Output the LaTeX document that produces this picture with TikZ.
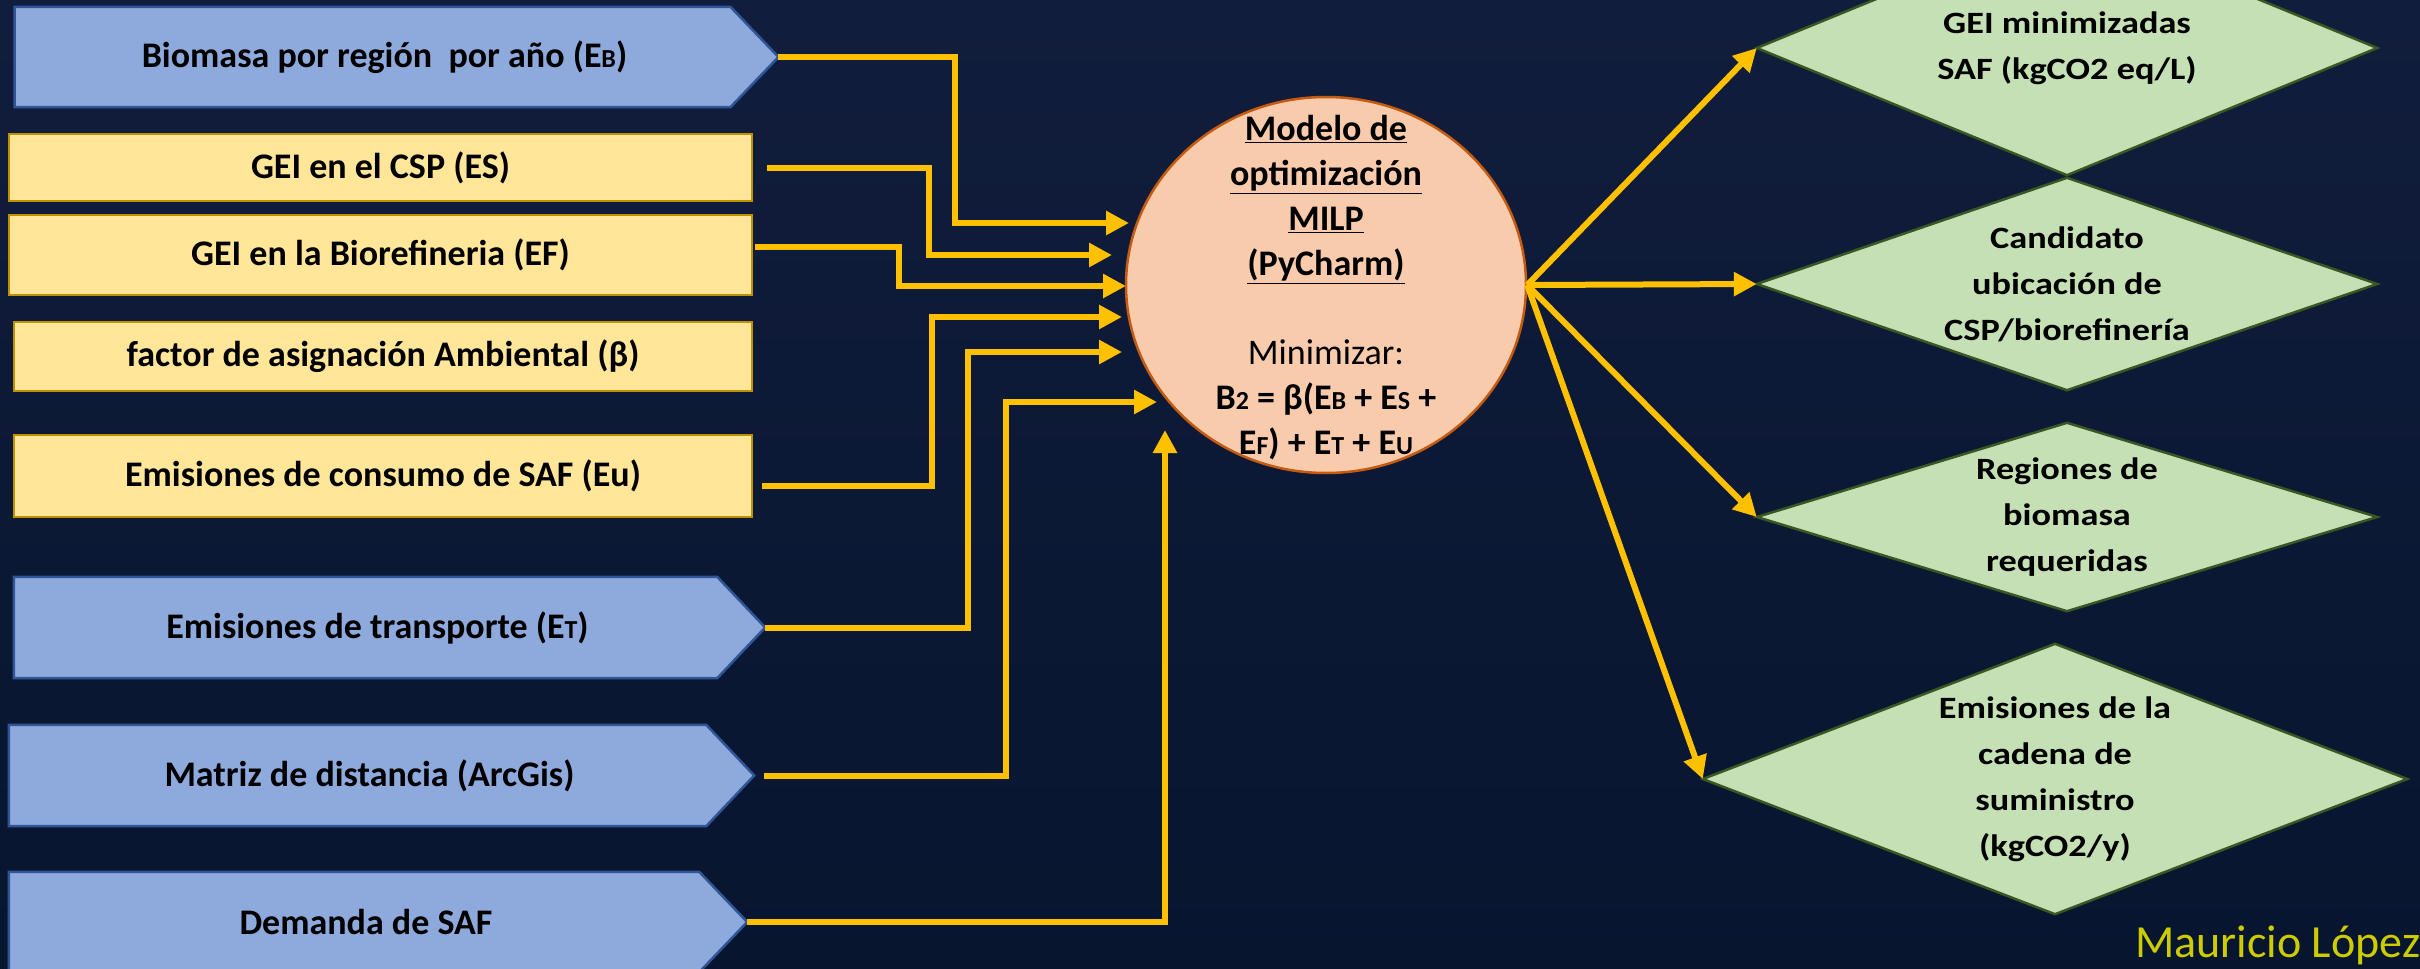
\documentclass[tikz,border=0pt]{standalone}
\usepackage{fontspec}
\setmainfont{Carlito}
\newfontfamily\wideface[FakeStretch=1.17]{Carlito}
\usetikzlibrary{arrows.meta,calc,shapes.geometric}

\definecolor{bgtop}{HTML}{111D3C}
\definecolor{bgbot}{HTML}{07152F}
\definecolor{bluefill}{HTML}{8EA9DB}
\definecolor{blueline}{HTML}{2F5597}
\definecolor{yelfill}{HTML}{FFE699}
\definecolor{yelline}{HTML}{BF9000}
\definecolor{grnfill}{HTML}{C5E0B4}
\definecolor{grnline}{HTML}{385723}
\definecolor{peach}{HTML}{F8CBAD}
\definecolor{peachline}{HTML}{C55A11}
\definecolor{gold}{HTML}{FFC000}
\definecolor{signcol}{HTML}{CCCC00}

\pgfdeclarelayer{back}
\pgfdeclarelayer{bg}
\pgfsetlayers{back,bg,main}

% small capital-height letters used as indices
\newcommand\smA[1]{{\fontsize{26}{42}\selectfont #1}}
\newcommand\smB[1]{{\fontsize{26}{45}\selectfont #1}}

\tikzset{
  lbl/.style={inner sep=0pt, font=\fontsize{36}{42}\selectfont\bfseries, text=black},
  mtxt/.style={inner sep=0pt, align=center, font=\fontsize{36}{45}\selectfont\bfseries, text=black},
  rtxt/.style={inner sep=0pt, align=center, font=\wideface\fontsize{31}{46}\selectfont\bfseries, text=black},
  pentfill/.style={fill=bluefill, draw=blueline, line width=2.5pt},
  yelbox/.style={fill=yelfill, draw=yelline, line width=2.5pt},
  grnbox/.style={fill=grnfill, draw=grnline, line width=2.5pt},
  conn/.style={draw=gold, line width=6pt},
  arr/.style={conn, -{Triangle[length=23pt,width=23pt]}},
}

\begin{document}
\begin{tikzpicture}[x=1pt,y=-1pt]
\useasboundingbox (0,0) rectangle (2420,969);
\begin{pgfonlayer}{back}
  \shade[top color=bgtop, bottom color=bgbot] (0,0) rectangle (2420,969);
\end{pgfonlayer}

% ---------- inputs: arrow-shaped boxes ----------
\node[lbl, minimum width=739.5pt, minimum height=100pt] (eb) at (384.5,57)
  {Biomasa por región\ \ por año (E\smA{B})};
\node[lbl, minimum width=727pt, minimum height=101pt] (et) at (377.5,627.5)
  {Emisiones de transporte (E\smA{T})};
\node[lbl, minimum width=721pt, minimum height=101pt] (md) at (369.5,775.5)
  {Matriz de distancia (ArcGis)};
\node[lbl, minimum width=714pt, minimum height=100pt] (ds) at (366,922)
  {Demanda de SAF};

% ---------- inputs: rectangular boxes ----------
\node[lbl, yelbox, minimum width=743pt, minimum height=67pt] (es) at (380.5,167.5)
  {GEI en el CSP (ES)};
\node[lbl, yelbox, minimum width=743pt, minimum height=80pt] (ef) at (380.5,255)
  {GEI en la Biorefineria (EF)};
\node[lbl, yelbox, minimum width=738pt, minimum height=69pt] (beta) at (383,356.5)
  {factor de asignación Ambiental (β)};
\node[lbl, yelbox, minimum width=738pt, minimum height=82pt] (eu) at (383,476)
  {Emisiones de consumo de SAF (Eu)};

\begin{pgfonlayer}{bg}
  \foreach \n in {eb,et,md,ds}{
    \draw[pentfill] (\n.north west) -- ([xshift=-24]\n.north east)
      -- ([xshift=24]\n.east) -- ([xshift=-24]\n.south east)
      -- (\n.south west) -- cycle;
  }
\end{pgfonlayer}

% ---------- optimisation model ----------
\node[ellipse, fill=peach, draw=peachline, line width=2.5pt, inner sep=0pt,
      minimum width=400pt, minimum height=376pt] (ell) at (1326,285) {};
\node[mtxt] (elltxt) at (1326,288)
  {\underline{Modelo de}\\ \underline{optimización}\\ \underline{MILP}\\
   \underline{(PyCharm)}\\[44pt]
   {\mdseries Minimizar:}\\
   B\smB{2} = β(E\smB{B} + E\smB{S} +\\
   E\smB{F}) + E\smB{T} + E\smB{U}};

% ---------- outputs ----------
\node[rtxt, minimum width=620pt, minimum height=254pt] (d1) at (2067,48)
  {GEI minimizadas\\ SAF (kgCO2 eq/L)};
\node[rtxt, minimum width=620pt, minimum height=212pt] (d2) at (2067,284)
  {Candidato\\ ubicación de\\ CSP/biorefinería};
\node[rtxt, minimum width=620pt, minimum height=188pt] (d3) at (2067,517)
  {Regiones de\\ biomasa\\ requeridas};
\node[rtxt, minimum width=704pt, minimum height=270pt] (d4) at (2055,779)
  {Emisiones de la\\ cadena de\\ suministro\\ (kgCO2/y)};

\begin{pgfonlayer}{bg}
  \foreach \n in {d1,d2,d3,d4}{
    \draw[grnbox] (\n.north) -- (\n.east) -- (\n.south) -- (\n.west) -- cycle;
  }
\end{pgfonlayer}

% ---------- arrow ends at the model ----------
\coordinate (tA) at (1129,223);
\coordinate (tB) at (1112,255);
\coordinate (tC) at (1126,286);
\coordinate (tD) at (1122,317);
\coordinate (tE) at (1122,352);
\coordinate (tF) at (1157,402);
\coordinate (tG) at (1165,430);

\draw[arr] ([xshift=24]eb.east) -- ++(177,0) |- (tA);
\draw[arr] ([xshift=14]es.east) -- ++(162,0) |- (tB);
\draw[arr] ([xshift=2,yshift=8]ef.east) -- ++(144,0) |- (tC);
\draw[arr] ([xshift=9,yshift=-10]eu.east) -- ++(170,0) |- (tD);
\draw[arr] ([xshift=24]et.east) -- ++(203,0) |- (tE);
\draw[arr] ([xshift=34]md.east) -- ++(242,0) |- (tF);
\draw[arr] ([xshift=24]ds.east) -| (tG);

% ---------- model to outputs ----------
\draw[arr] (ell.east) -- (d1.west);
\draw[arr] (ell.east) -- (d2.west);
\draw[arr] (ell.east) -- (d3.west);
\draw[arr] (ell.east) -- (d4.west);

\node[anchor=base west, inner sep=0pt, text=signcol, font=\fontsize{46}{50}\selectfont]
  (sig) at (2135,957) {Mauricio López};
\end{tikzpicture}
\end{document}
